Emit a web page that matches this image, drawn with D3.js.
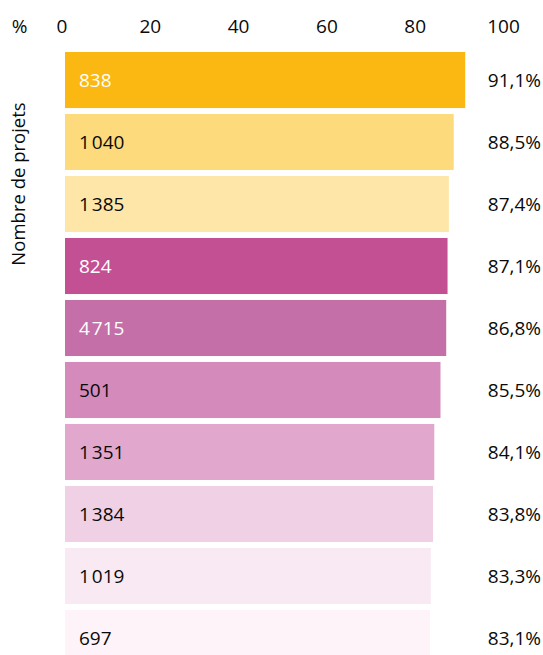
<!DOCTYPE html>
<html>
<head>
<meta charset="utf-8">
<script src="https://cdn.jsdelivr.net/npm/d3@7"></script>
<style>
  body { margin: 0; background: #fff; }
  text { font-family: "Open Sans", "Noto Sans", sans-serif; font-weight: 500; fill: #0a0a0a; }
</style>
</head>
<body>
<svg id="chart"></svg>
<script>
// Data
const projects = [838, 1040, 1385, 824, 4715, 501, 1351, 1384, 1019, 697];
const percents = [91.1, 88.5, 87.4, 87.1, 86.8, 85.5, 84.1, 83.8, 83.3, 83.1];
const colors = ["#FBB812", "#FDDA7C", "#FEE6A9", "#C35093", "#C46FA8",
                "#D48BBB", "#E1A7CC", "#F0D0E4", "#F8E9F3", "#FDF3F8"];
const lightText = [true, false, false, true, true, false, false, false, false, false];
const xTicks = [0, 20, 40, 60, 80, 100];

const width = 543;
const height = 655;
const fontSize = 19;

const svg = d3.select("#chart")
    .attr("width", width)
    .attr("height", height);

const xScale = d3.scaleLinear()
    .domain([0, 100])
    .range([61.5, 503]);

const yScale = d3.scaleBand()
    .domain(d3.range(projects.length))
    .range([52, 52 + 61.4 * projects.length])
    .paddingInner(0.096)
    .paddingOuter(0);

const fr = d3.formatLocale({ decimal: ",", thousands: "\u200A", grouping: [3], currency: ["", "€"] });
const fmtCount = fr.format(",d");
const fmtPct = fr.format(".1f");

// Top axis
const xAxis = d3.axisTop(xScale)
    .tickValues(xTicks)
    .tickSize(0)
    .tickPadding(0);

const axisG = svg.append("g")
    .attr("transform", "translate(0, 33)")
    .call(xAxis);
axisG.select(".domain").remove();
axisG.selectAll("text")
    .attr("font-size", fontSize)
    .attr("font-family", "'Open Sans', 'Noto Sans', sans-serif")
    .attr("font-weight", 500)
    .attr("fill", "#0a0a0a");

svg.append("text")
    .attr("x", 19.5)
    .attr("y", 33)
    .attr("text-anchor", "middle")
    .attr("font-size", fontSize)
    .text("%");

// Y label
svg.append("text")
    .attr("transform", "translate(25, 184) rotate(-90)")
    .attr("text-anchor", "middle")
    .attr("font-size", 18.5)
    .text("Nombre de projets");

// Bars
const rows = svg.selectAll(".row")
    .data(projects)
    .enter()
    .append("g")
    .attr("class", "row");

rows.append("rect")
    .attr("x", xScale(0) + 3.5)
    .attr("y", (d, i) => yScale(i))
    .attr("width", (d, i) => xScale(percents[i]) - xScale(0) - 2)
    .attr("height", yScale.bandwidth())
    .attr("fill", (d, i) => colors[i]);

rows.append("text")
    .attr("x", 79)
    .attr("y", (d, i) => yScale(i) + yScale.bandwidth() / 2)
    .attr("dy", "0.36em")
    .attr("font-size", fontSize)
    .style("fill", (d, i) => lightText[i] ? "#fff" : "#0a0a0a")
    .text(d => fmtCount(d));

rows.append("text")
    .attr("x", 541)
    .attr("y", (d, i) => yScale(i) + yScale.bandwidth() / 2)
    .attr("dy", "0.36em")
    .attr("text-anchor", "end")
    .attr("font-size", fontSize)
    .text((d, i) => fmtPct(percents[i]) + "%");
</script>
</body>
</html>
